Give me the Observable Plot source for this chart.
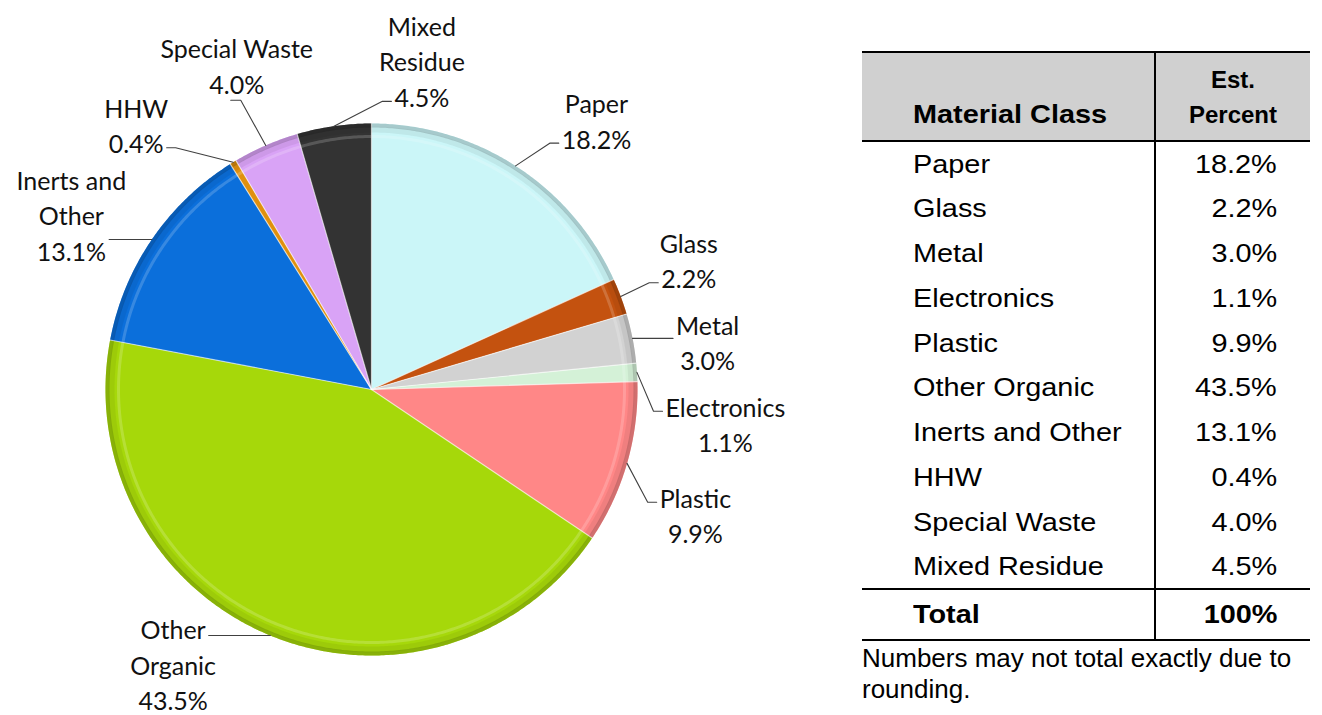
<!DOCTYPE html>
<html><head><meta charset="utf-8">
<script src="https://cdn.jsdelivr.net/npm/d3@7"></script>
<script src="https://cdn.jsdelivr.net/npm/@observablehq/plot@0.6"></script>
<style>
body{margin:0;background:#fff;}
#wrap{position:relative;width:1322px;height:715px;overflow:hidden;background:#fff;}
#pie{position:absolute;left:0;top:0;}
#tbl{position:absolute;left:862px;top:51px;font-family:"Liberation Sans",Arial,sans-serif;font-size:26px;color:#000;}
table{border-collapse:collapse;table-layout:fixed;width:448px;}
thead tr{background:#d0d0d0;border-top:2px solid #000;border-bottom:2px solid #000;height:89px;}
th{font-weight:bold;vertical-align:bottom;padding:0 0 8px 0;line-height:35px;}
th.c1{text-align:left;padding-left:51px;}
th.c2{text-align:center;border-left:2px solid #000;font-size:24px;}
tbody tr{height:44.8px;}
td{padding:0;line-height:30px;vertical-align:middle;}
td.c1{padding-left:51px;text-align:left;}
td.c2{text-align:right;padding-right:33px;border-left:2px solid #000;}
tfoot tr{border-top:2px solid #000;border-bottom:2px solid #000;height:51px;font-weight:bold;}
.sl{display:inline-block;transform:scaleX(1.11);transform-origin:left center;white-space:nowrap;}
.sr{display:inline-block;transform:scaleX(1.11);transform-origin:right center;white-space:nowrap;}
#note{width:448px;line-height:31px;margin-top:2px;}
</style></head>
<body><div id="wrap"><div id="pie"></div><div id="tbl"></div></div>
<script>
// ---- data ----
const categories = ["Paper","Glass","Metal","Electronics","Plastic","Other Organic","Inerts and Other","HHW","Special Waste","Mixed Residue"];
const percents = [18.2, 2.2, 3.0, 1.1, 9.9, 43.5, 13.1, 0.4, 4.0, 4.5];
const pieLabels = ["Paper","Glass","Metal","Electronics","Plastic","Other\nOrganic","Inerts and\nOther","HHW","Special Waste","Mixed\nResidue"];
const tableHeaders = ["Material Class", "Est.", "Percent"];
const totalText = ["Total", "100%"];
const noteText = "Numbers may not total exactly due to rounding.";
// ---- styles / layout ----
const sliceColors = ["#cbf6f8","#c4520f","#d2d2d2","#d4f1d7","#ff8787","#a6d80a","#0b6fdb","#e0900f","#d9a3f6","#333333"];
const labelAngleNudge = [7.0, -1.9, 2.9, 9.1, 4.9, 13.6, -4.0, -10.2, 0.9, 16.8];
const labelRadiusNudge = [4.5, -4, -7.4, 8.5, 0, -9, 0.7, 7.8, 4.8, -13.5];

const W = 850, H = 715, cx = 371, cy = 389, R = 266, LR = 347;
const FS = 25, LH = 35.5, FONT = "Lato";

const pie = d3.pie().sort(null).value(d => d)(percents);
const pt = (a, r) => ({x: cx + r * Math.sin(a), y: cy - r * Math.cos(a)});

function arcPts(p, r) {
  const n = Math.max(2, Math.ceil((p.endAngle - p.startAngle) / (Math.PI / 360)));
  const out = [];
  for (let j = 0; j <= n; j++) out.push(pt(p.startAngle + (p.endAngle - p.startAngle) * j / n, r));
  return out;
}

const marks = [];
pie.forEach((p, i) => {
  const wedge = [{x: cx, y: cy}, ...arcPts(p, R), {x: cx, y: cy}];
  const base = d3.color(sliceColors[i]);
  marks.push(Plot.line(wedge, {x: "x", y: "y", fill: sliceColors[i], stroke: "none", curve: "linear"}));
  // soft bevel: darker rim and light inner highlight
  marks.push(Plot.line(arcPts(p, R - 6), {x: "x", y: "y", stroke: base.darker(0.5).formatHex(), strokeWidth: 6, strokeOpacity: 0.35, strokeLinecap: "butt"}));
  marks.push(Plot.line(arcPts(p, R - 2), {x: "x", y: "y", stroke: base.darker(1.1).formatHex(), strokeWidth: 4, strokeOpacity: 0.55, strokeLinecap: "butt"}));
  marks.push(Plot.line(arcPts(p, R - 13), {x: "x", y: "y", stroke: "#ffffff", strokeWidth: 3, strokeOpacity: 0.18, strokeLinecap: "butt"}));
});
// slice separators
pie.forEach((p) => {
  marks.push(Plot.line([{x: cx, y: cy}, pt(p.startAngle, R)], {x: "x", y: "y", stroke: "#ffffff", strokeWidth: 1.2, strokeOpacity: 0.6}));
});

// labels
const ctx = document.createElement("canvas").getContext("2d");
ctx.font = `${FS}px ${FONT}`;
const labelData = [], leaders = [];
pie.forEach((p, i) => {
  const mid = (p.startAngle + p.endAngle) / 2;
  const la = mid + labelAngleNudge[i] * Math.PI / 180;
  const c = pt(la, LR + labelRadiusNudge[i]);
  const lines = (pieLabels[i] + "\n" + percents[i].toFixed(1) + "%").split("\n");
  labelData.push({x: c.x, y: c.y, text: lines.join("\n")});
  const n = lines.length;
  const centers = lines.map((_, k) => c.y + (k - (n - 1) / 2) * LH);
  const widths = lines.map(s => ctx.measureText(s).width);
  const maxW = Math.max(...widths);
  const left = c.x - maxW / 2, right = c.x + maxW / 2;
  const P = pt(mid, R);
  let path;
  if (P.x >= left && P.x <= right) {
    const below = P.y > c.y;
    const yy = below ? centers[n - 1] + 18 : centers[0] - 18;
    const s = Math.sign(P.x - c.x) || 1;
    path = [{x: c.x - 6 * s, y: yy}, {x: c.x + 4 * s, y: yy}, P];
  } else {
    const yy = Math.max(centers[0] + 6, Math.min(centers[n - 1] + 6, P.y));
    let k = 0, best = 1e9;
    centers.forEach((cy2, j) => { const d = Math.abs(cy2 - yy); if (d < best) { best = d; k = j; } });
    const side = P.x < left ? -1 : 1;
    const edge = c.x + side * (widths[k] / 2 + 3);
    path = [{x: edge, y: yy}, {x: edge + side * 9, y: yy}, P];
  }
  path.forEach(q => leaders.push({...q, k: i}));
});
marks.push(Plot.line(leaders, {x: "x", y: "y", z: "k", stroke: "#404040", strokeWidth: 1.1, curve: "linear"}));
marks.push(Plot.text(labelData, {x: "x", y: "y", text: "text", fontSize: FS, fontFamily: FONT, lineHeight: LH / FS, lineAnchor: "middle", textAnchor: "middle", fill: "#111"}));

const chart = Plot.plot({
  width: W, height: H, margin: 0,
  x: {domain: [0, W], axis: null},
  y: {domain: [0, H], reverse: true, axis: null},
  marks
});
document.getElementById("pie").appendChild(chart);

// ---- table ----
const L = s => `<span class="sl">${s}</span>`, Rr = s => `<span class="sr">${s}</span>`;
let html = `<table><colgroup><col style="width:293px"><col style="width:155px"></colgroup>`;
html += `<thead><tr><th class="c1">${L(tableHeaders[0])}</th><th class="c2">${tableHeaders[1]}<br>${tableHeaders[2]}</th></tr></thead><tbody>`;
categories.forEach((c, i) => { html += `<tr><td class="c1">${L(c)}</td><td class="c2">${Rr(percents[i].toFixed(1) + "%")}</td></tr>`; });
html += `</tbody><tfoot><tr><td class="c1">${L(totalText[0])}</td><td class="c2">${Rr(totalText[1])}</td></tr></tfoot></table>`;
html += `<div id="note">${noteText}</div>`;
document.getElementById("tbl").innerHTML = html;
</script>
</body></html>
